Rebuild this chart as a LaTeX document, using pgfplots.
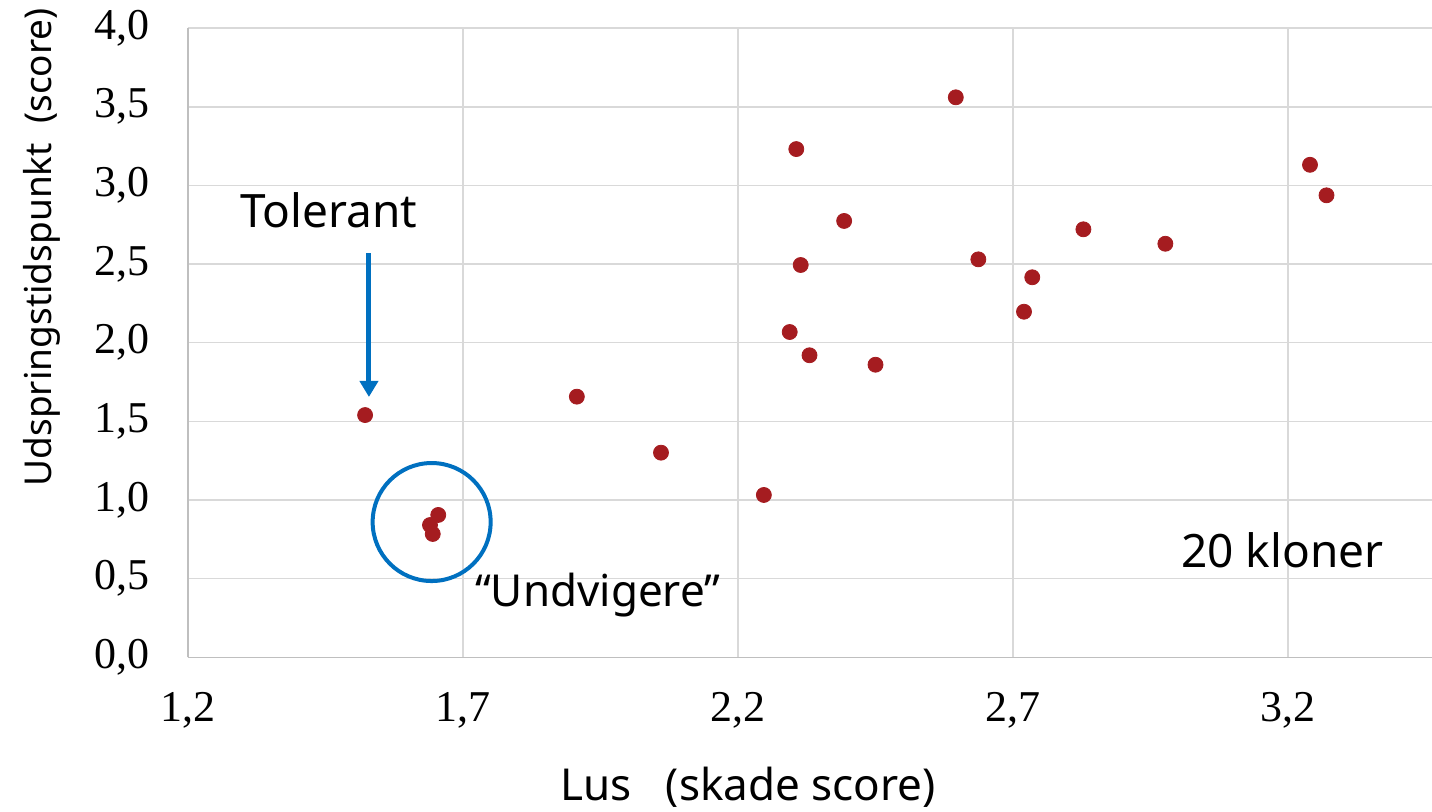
\documentclass[border=0pt]{standalone}
\usepackage{pgfplots}
\pgfplotsset{compat=1.18}
\usepackage{fontspec}
\setmainfont{Liberation Serif}
\newfontfamily\sansf{Noto Sans}
\usetikzlibrary{arrows.meta}
\definecolor{dotred}{HTML}{A51C20}
\definecolor{annblue}{HTML}{0070C0}
\definecolor{gridc}{HTML}{D9D9D9}
\definecolor{axc}{HTML}{BFBFBF}
\begin{document}
\begin{tikzpicture}
\useasboundingbox (-94pt,-76.85pt) rectangle (622pt,328.65pt);
\begin{axis}[
  at={(0pt,0pt)}, anchor=south west,
  scale only axis, width=622pt, height=314.6pt,
  xmin=1.2, xmax=3.4618, ymin=0, ymax=4,
  xtick={1.2,1.7,2.2,2.7,3.2},
  ytick={0,0.5,1,1.5,2,2.5,3,3.5,4},
  grid=major, major grid style={gridc, line width=0.75pt},
  axis x line*=bottom, axis y line*=left,
  axis line style={axc, line width=0.75pt, -},
  tick style={draw=none},
  tick label style={font=\fontsize{22}{26}\selectfont},
  xticklabel style={yshift=-14pt},
  yticklabel style={xshift=-15.5pt},
  /pgf/number format/use comma,
  /pgf/number format/fixed,
  /pgf/number format/fixed zerofill,
  /pgf/number format/precision=1,
  /pgf/number format/assume math mode=true,
  clip=false,
]
\addplot[only marks, mark=*, mark size=3.75pt, mark options={fill=dotred, draw=dotred}] coordinates {
(1.522,1.540)
(1.655,0.905)
(1.640,0.841)
(1.645,0.784)
(1.907,1.657)
(2.060,1.301)
(2.247,1.032)
(2.306,3.231)
(2.314,2.494)
(2.294,2.068)
(2.330,1.920)
(2.393,2.774)
(2.450,1.860)
(2.596,3.560)
(2.637,2.530)
(2.720,2.197)
(2.735,2.416)
(2.828,2.721)
(2.977,2.629)
(3.240,3.131)
(3.270,2.937)
};
\draw[annblue, line width=2pt] (axis cs:1.643,0.860) circle[radius=29.5pt];
\draw[annblue, line width=2.5pt, -{Triangle[width=9pt,length=8pt]}] (axis cs:1.529,2.570) -- (axis cs:1.529,1.655);
\node[anchor=base, font=\sansf\fontsize{23}{26}\selectfont] at (axis cs:1.456,2.735) {Tolerant};
\node[anchor=base, font=\sansf\fontsize{22}{26}\selectfont] at (axis cs:1.945,0.320) {“Undvigere”};
\node[anchor=base, font=\sansf\fontsize{23}{26}\selectfont] at (axis cs:3.190,0.574) {20 kloner};
\end{axis}
\node[rotate=90, font=\sansf\fontsize{18.5}{20}\selectfont] at (-73pt,205pt) {Udspringstidspunkt\ \ (score)};
\node[anchor=base, font=\sansf\fontsize{22}{24}\selectfont] at (280pt,-71.4pt) {Lus\ \ \ (skade score)};
\end{tikzpicture}
\end{document}
